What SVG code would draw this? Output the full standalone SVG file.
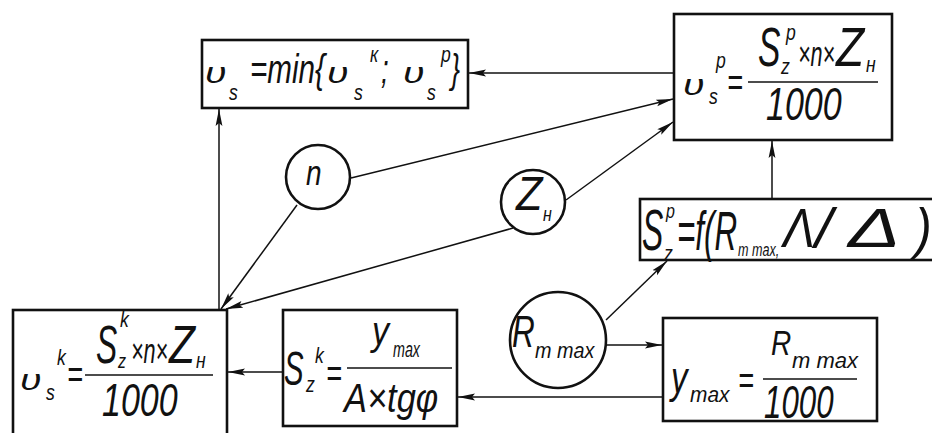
<svg xmlns="http://www.w3.org/2000/svg" width="932" height="433" viewBox="0 0 932 433">
<style>
.bg{fill:#fff}
.box{fill:#fff;stroke:#111;stroke-width:2.6}
.circ{fill:#fff;stroke:#111;stroke-width:2.6}
.ln{stroke:#111;stroke-width:1.5;fill:none}
.fr{stroke:#111;stroke-width:1.6}
.t{font-family:"Liberation Sans",Arial,sans-serif;font-style:italic;fill:#111}
</style>
<defs>
<marker id="ah" markerUnits="userSpaceOnUse" markerWidth="18" markerHeight="8" refX="17" refY="4" orient="auto">
<path d="M0,0.6 L17,4 L0,7.4 L3,4 Z" fill="#111"/>
</marker>
</defs>
<rect class="bg" x="0" y="0" width="932" height="433"/>

<g id="connectors">
<line class="ln" x1="674" y1="73" x2="469" y2="73" marker-end="url(#ah)"/>
<line class="ln" x1="772" y1="199" x2="772" y2="141" marker-end="url(#ah)"/>
<line class="ln" x1="219" y1="310" x2="219" y2="109" marker-end="url(#ah)"/>
<line class="ln" x1="351" y1="178" x2="673" y2="99" marker-end="url(#ah)"/>
<line class="ln" x1="297" y1="205" x2="221" y2="309" marker-end="url(#ah)"/>
<line class="ln" x1="566" y1="200" x2="673" y2="122" marker-end="url(#ah)"/>
<line class="ln" x1="513" y1="228" x2="226" y2="309" marker-end="url(#ah)"/>
<line class="ln" x1="606" y1="320" x2="667" y2="261" marker-end="url(#ah)"/>
<line class="ln" x1="606" y1="345" x2="662" y2="345" marker-end="url(#ah)"/>
<line class="ln" x1="663" y1="397" x2="458" y2="397" marker-end="url(#ah)"/>
<line class="ln" x1="283" y1="372" x2="228" y2="372" marker-end="url(#ah)"/>
</g>

<g id="node-vs-min">
<rect class="box" x="202" y="40" width="266" height="68"/>
<text class="t" font-size="30" transform="translate(205 83) scale(1.3 1)">υ</text>
<text class="t" font-size="22" transform="translate(229 100) scale(.8 1)">s</text>
<text class="t" font-size="40" transform="translate(250 83) scale(.74 1)">=min{</text>
<text class="t" font-size="30" transform="translate(327 83) scale(1.3 1)">υ</text>
<text class="t" font-size="22" transform="translate(354 100) scale(.8 1)">s</text>
<text class="t" font-size="22" transform="translate(370 62) scale(.8 1)">к</text>
<text class="t" font-size="40" transform="translate(381 83) scale(.68 1)">;</text>
<text class="t" font-size="30" transform="translate(403 83) scale(1.3 1)">υ</text>
<text class="t" font-size="22" transform="translate(427 100) scale(.8 1)">s</text>
<text class="t" font-size="22" transform="translate(441 62) scale(.8 1)">p</text>
<text class="t" font-size="40" transform="translate(451 83) scale(.68 1)">}</text>
</g>

<g id="node-vs-p">
<rect class="box" x="674" y="14" width="218" height="126"/>
<text class="t" font-size="30" transform="translate(683 95) scale(1.3 1)">υ</text>
<text class="t" font-size="22" transform="translate(709 104) scale(.8 1)">s</text>
<text class="t" font-size="22" transform="translate(716 68) scale(.8 1)">p</text>
<text class="t" font-size="40" transform="translate(727 96) scale(.68 1)">=</text>
<line class="fr" x1="748" y1="82" x2="878" y2="82"/>
<text class="t" font-size="56" transform="translate(758 66) scale(.6 1)">S</text>
<text class="t" font-size="22" transform="translate(781 74) scale(.8 1)">z</text>
<text class="t" font-size="22" transform="translate(786 40) scale(.8 1)">p</text>
<text class="t" font-size="36" transform="translate(798 66) scale(.6 1)">×n×</text>
<text class="t" font-size="56" transform="translate(836 66) scale(.82 1)">Z</text>
<text class="t" font-size="22" transform="translate(866 72) scale(.8 1)">н</text>
<text class="t" font-size="46" transform="translate(766 120) scale(.74 1)">1000</text>
</g>

<g id="node-sz-p">
<rect class="box" x="640" y="199" width="300" height="61"/>
<text class="t" font-size="58" transform="translate(642 250) scale(.55 1)">S</text>
<text class="t" font-size="22" transform="translate(664 261) scale(.8 1)">z</text>
<text class="t" font-size="20" transform="translate(666 218) scale(.8 1)">p</text>
<text class="t" font-size="56" transform="translate(677 250) scale(.56 1)">=f(R</text>
<text class="t" font-size="18" transform="translate(738 256) scale(.7 1)">m max,</text>
<text class="t" font-size="56" transform="translate(783 247) scale(.85 1)">Λ</text>
<text class="t" font-size="56" transform="translate(815 247) scale(1.1 1)">/</text>
<text class="t" font-size="56" transform="translate(848 247) scale(1.4 1)">Δ</text>
<text class="t" font-size="56" transform="translate(915 247) scale(.9 1)">)</text>
</g>

<g id="node-vs-k">
<rect class="box" x="13" y="310" width="214" height="130"/>
<text class="t" font-size="30" transform="translate(20 390) scale(1.3 1)">υ</text>
<text class="t" font-size="22" transform="translate(46 400) scale(.8 1)">s</text>
<text class="t" font-size="22" transform="translate(57 365) scale(.8 1)">k</text>
<text class="t" font-size="40" transform="translate(67 388) scale(.68 1)">=</text>
<line class="fr" x1="85" y1="375" x2="213" y2="375"/>
<text class="t" font-size="53" transform="translate(96 363) scale(.6 1)">S</text>
<text class="t" font-size="20" transform="translate(118 368) scale(.8 1)">z</text>
<text class="t" font-size="22" transform="translate(120 327) scale(.8 1)">k</text>
<text class="t" font-size="36" transform="translate(131 363) scale(.6 1)">×n×</text>
<text class="t" font-size="53" transform="translate(169 363) scale(.8 1)">Z</text>
<text class="t" font-size="22" transform="translate(196 368) scale(.8 1)">н</text>
<text class="t" font-size="46" transform="translate(102 416) scale(.74 1)">1000</text>
</g>

<g id="node-sz-k">
<rect class="box" x="283" y="310" width="174" height="116"/>
<text class="t" font-size="49" transform="translate(284 385) scale(.6 1)">S</text>
<text class="t" font-size="22" transform="translate(306 392) scale(.8 1)">z</text>
<text class="t" font-size="22" transform="translate(315 363) scale(.8 1)">k</text>
<text class="t" font-size="40" transform="translate(326 387) scale(.68 1)">=</text>
<line class="fr" x1="347" y1="368" x2="452" y2="368"/>
<text class="t" font-size="40" transform="translate(372 345) scale(.85 1)">y</text>
<text class="t" font-size="22" transform="translate(393 357) scale(.65 1)">max</text>
<text class="t" font-size="41" transform="translate(344 412) scale(.84 1)">A×tgφ</text>
</g>

<g id="node-ymax">
<rect class="box" x="663" y="318" width="214" height="103"/>
<text class="t" font-size="44" transform="translate(671 393) scale(.75 1)">y</text>
<text class="t" font-size="22" transform="translate(690 402) scale(.95 1)">max</text>
<text class="t" font-size="40" transform="translate(738 394) scale(.68 1)">=</text>
<line class="fr" x1="763" y1="379" x2="857" y2="379"/>
<text class="t" font-size="35" transform="translate(771 355) scale(.8 1)">R</text>
<text class="t" font-size="22" transform="translate(792 368) scale(1 1)">m max</text>
<text class="t" font-size="46" transform="translate(764 418) scale(.68 1)">1000</text>
</g>

<g id="node-n">
<circle class="circ" cx="318" cy="177" r="32"/>
<text class="t" font-size="35" transform="translate(306 185) scale(.8 1)">n</text>
</g>

<g id="node-zh">
<circle class="circ" cx="533" cy="202" r="32"/>
<text class="t" font-size="48" transform="translate(516 210) scale(.9 1)">Z</text>
<text class="t" font-size="20" transform="translate(543 221) scale(.8 1)">н</text>
</g>

<g id="node-rmax">
<circle class="circ" cx="558" cy="340" r="48"/>
<text class="t" font-size="45" transform="translate(512 347) scale(.7 1)">R</text>
<text class="t" font-size="22" transform="translate(535 358) scale(.9 1)">m max</text>
</g>
</svg>
